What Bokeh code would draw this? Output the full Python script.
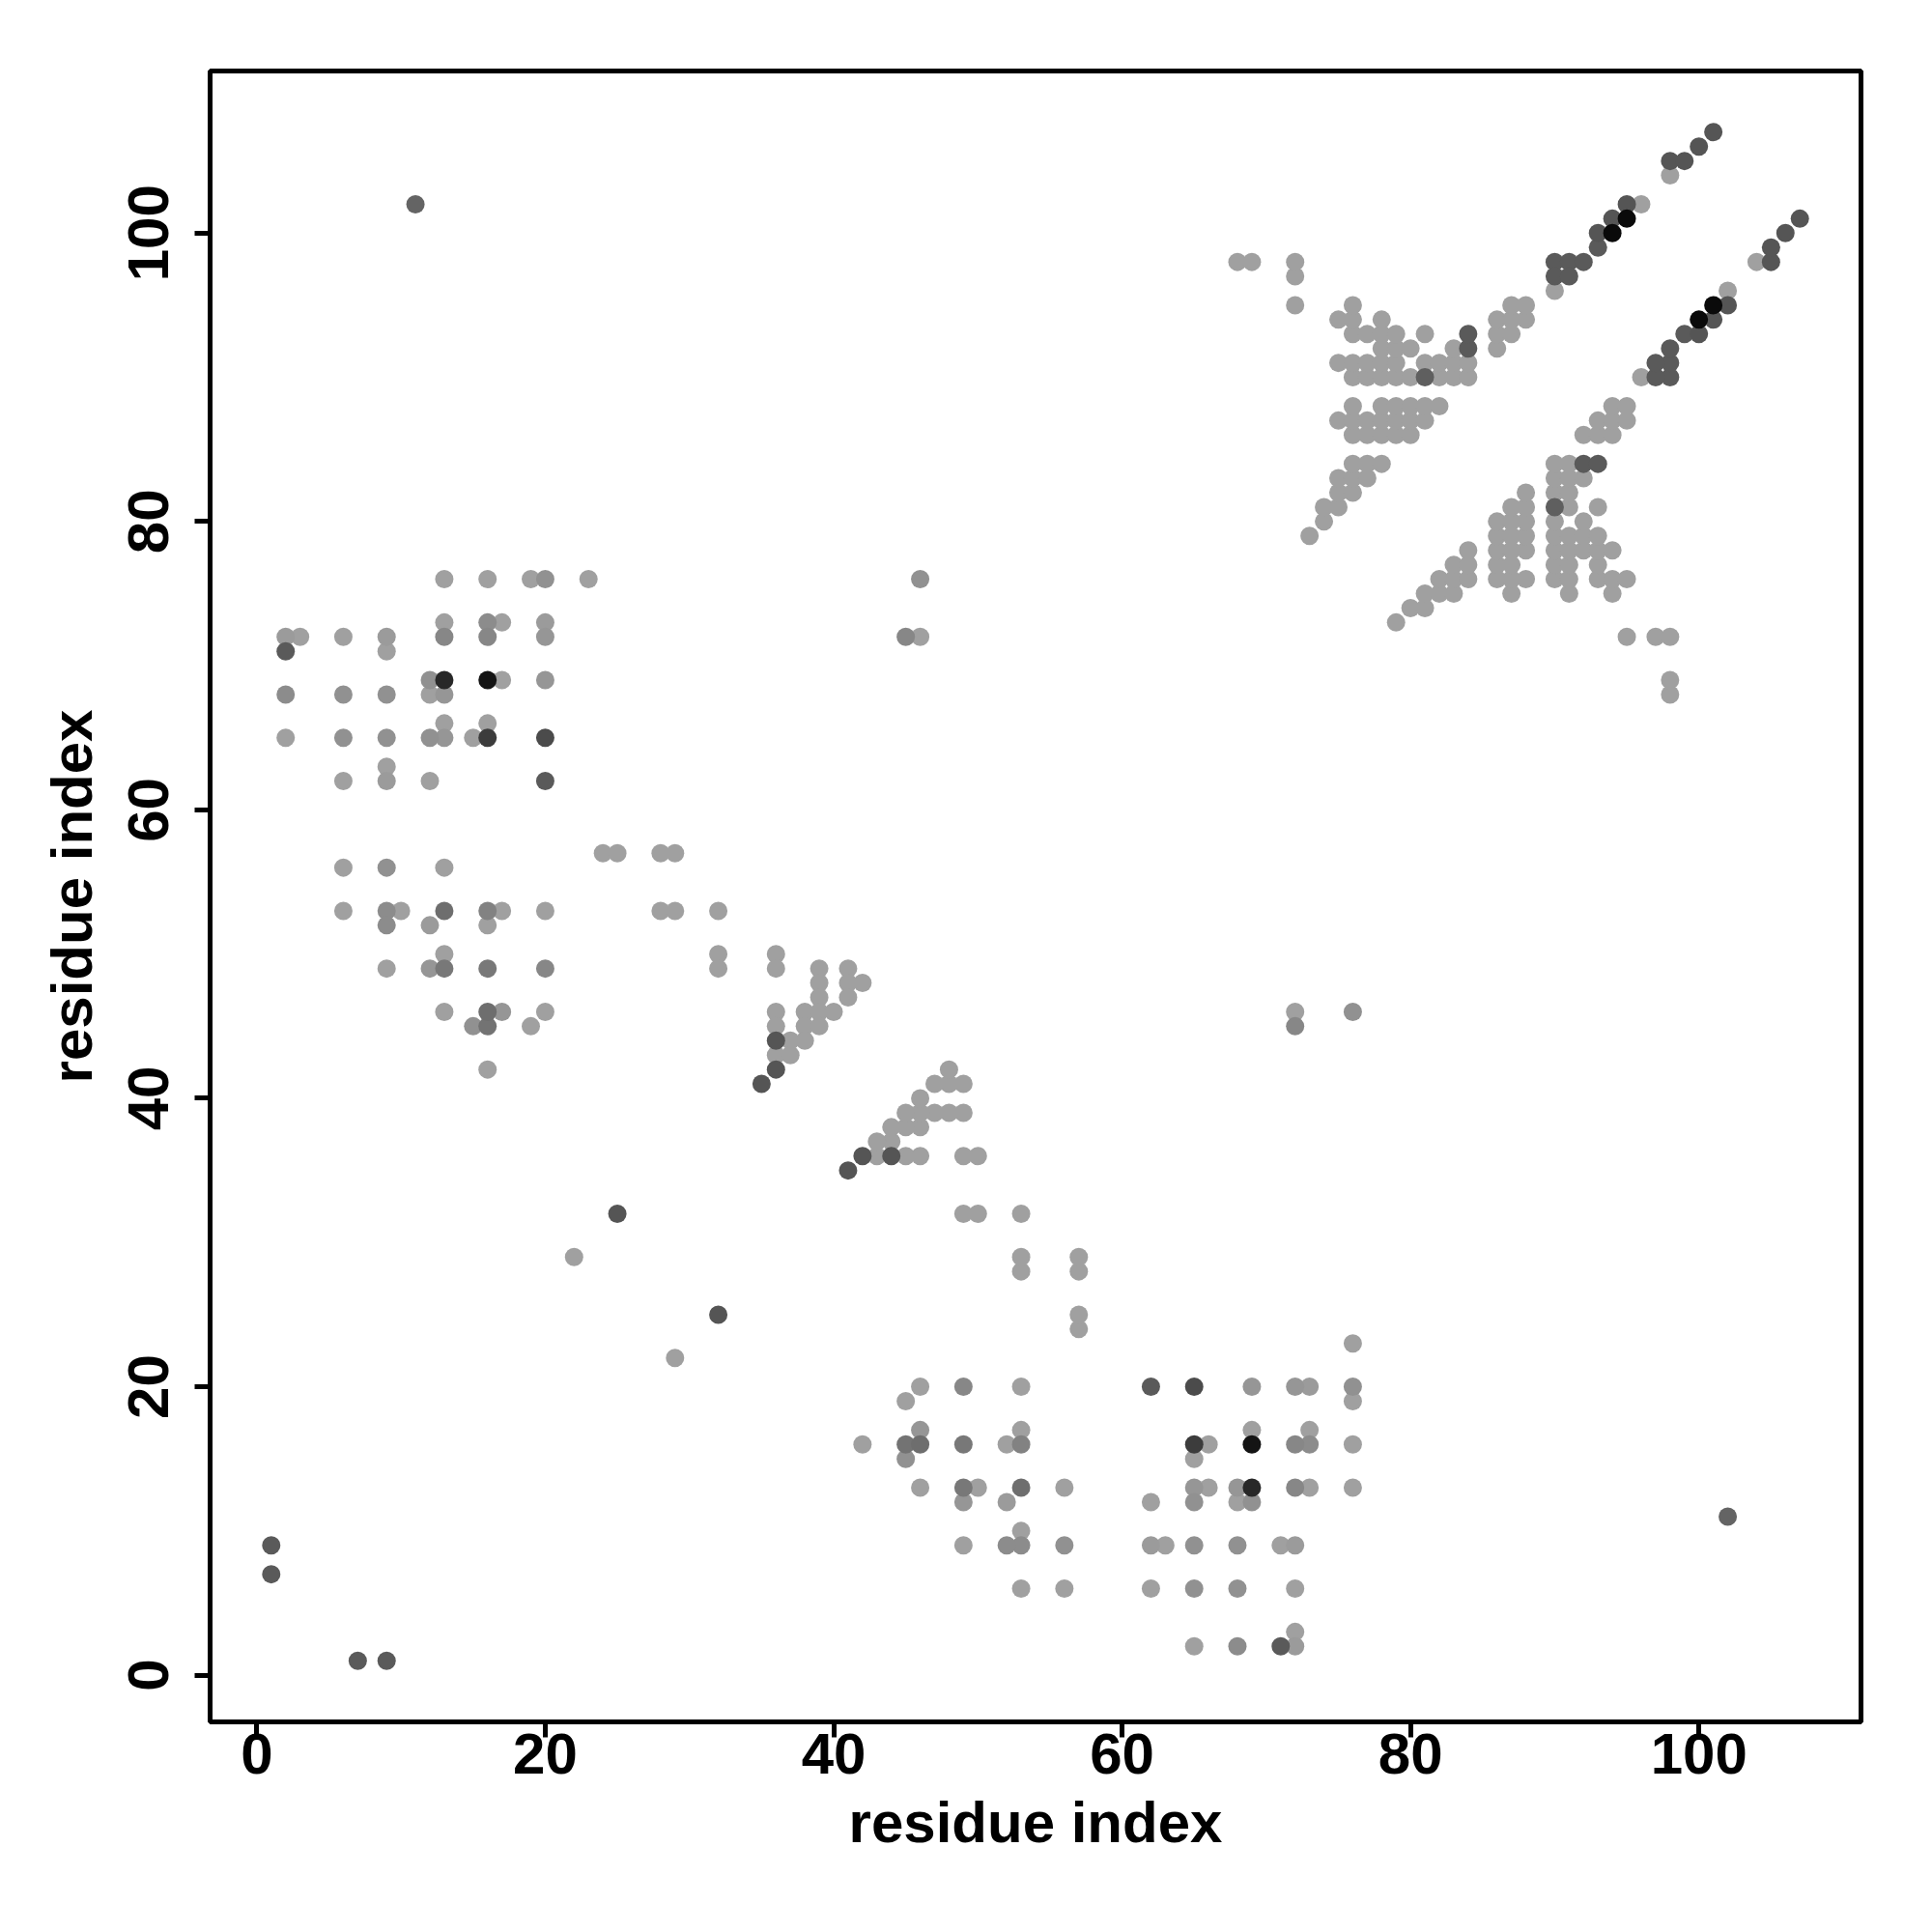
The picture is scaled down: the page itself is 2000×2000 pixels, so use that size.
import numpy as np
from bokeh.plotting import figure
from bokeh.models import Range1d, FixedTicker, ColumnDataSource
from bokeh.embed import file_html
from bokeh.resources import INLINE

# Contact map is symmetric: contacts read in the upper triangle (i < j),
# each drawn at (i, j) and (j, i). Gray level = darkness of the dot (0-255).

# block of contacts between residues 1-23 and 42-76
lb_i = [13, 16, 19, 20, 23,
        13, 16, 17, 20,
        2, 3, 6, 9, 13, 16, 20,
        2, 9,
        12, 13, 16, 17, 20,
        2, 6, 9, 12, 13,
        13, 16,
        2, 6, 9, 12, 13, 15, 16, 20,
        9,
        6, 9, 12, 20,
        6, 9, 13,
        6, 9, 10, 13, 16, 17, 20,
        9, 12, 16,
        13,
        9, 12, 13, 16, 20,
        13, 16, 17, 20,
        15, 16, 19,
        16]
lb_j = [76, 76, 76, 76, 76,
        73, 73, 73, 73,
        72, 72, 72, 72, 72, 72, 72,
        71, 71,
        69, 69, 69, 69, 69,
        68, 68, 68, 68, 68,
        66, 66,
        65, 65, 65, 65, 65, 65, 65, 65,
        63,
        62, 62, 62, 62,
        56, 56, 56,
        53, 53, 53, 53, 53, 53, 53,
        52, 52, 52,
        50,
        49, 49, 49, 49, 49,
        46, 46, 46, 46,
        45, 45, 45,
        42]
lb_gray = [160, 160, 160, 145, 160,
           160, 140, 160, 155,
           155, 160, 160, 155, 135, 135, 150,
           90, 160,
           145, 40, 20, 160, 150,
           140, 145, 145, 160, 150,
           160, 160,
           160, 145, 145, 145, 150, 160, 60, 75,
           160,
           160, 155, 160, 90,
           160, 145, 160,
           160, 140, 160, 110, 130, 160, 160,
           140, 155, 160,
           160,
           160, 150, 120, 120, 135,
           160, 110, 150, 160,
           145, 115, 160,
           160]

# band of contacts along the diagonal, residues 22-57
bd_i = [24, 25, 28, 29,
        28, 29, 32,
        32, 36,
        32, 36, 39, 41,
        39, 41, 42,
        39, 41,
        36, 38, 39, 40,
        36, 38, 39,
        36, 37, 38,
        36, 37,
        36, 35, 25, 22,
        46, 45, 46]
bd_j = [57, 57, 57, 57,
        53, 53, 53,
        50, 50,
        49, 49, 49, 49,
        48, 48, 48,
        47, 47,
        46, 46, 46, 46,
        45, 45, 45,
        44, 44, 44,
        43, 43,
        42, 41, 32, 29,
        76, 72, 72]
bd_gray = [160, 160, 160, 160,
           160, 160, 160,
           160, 160,
           160, 160, 160, 160,
           160, 160, 160,
           160, 160,
           160, 160, 160, 160,
           160, 160, 160,
           85, 160, 160,
           160, 160,
           85, 85, 85, 160,
           145, 135, 160]

# cluster of contacts between residues 68-88 and 79-98
xc_i = [73, 74, 74, 75, 75, 76, 75, 76, 77, 76, 77, 78,
        76, 77, 78, 79, 80,
        75, 76, 77, 78, 79, 80, 81,
        76, 78, 79, 80, 81, 82,
        76, 77, 78, 79, 80, 81, 82, 83, 84,
        75, 76, 77, 78, 79, 81, 82, 83, 84,
        78, 79, 80, 83, 84, 86,
        76, 77, 78, 79, 81, 84, 86, 87,
        75, 76, 78, 86, 87, 88,
        76, 87, 88,
        72, 72, 72, 68, 69]
xc_j = [79, 80, 81, 81, 82, 82, 83, 83, 83, 84, 84, 84,
        86, 86, 86, 86, 86,
        87, 87, 87, 87, 87, 87, 87,
        88, 88, 88, 88, 88, 88,
        90, 90, 90, 90, 90, 90, 90, 90, 90,
        91, 91, 91, 91, 91, 91, 91, 91, 91,
        92, 92, 92, 92, 92, 92,
        93, 93, 93, 93, 93, 93, 93, 93,
        94, 94, 94, 94, 94, 94,
        95, 95, 95,
        95, 97, 98, 98, 98]
xc_gray = [160] * 12 + [160] * 5 + [160] * 7 + [160] * 6 \
    + [160, 160, 160, 160, 160, 95, 160, 160, 160] \
    + [160] * 9 \
    + [160, 160, 160, 160, 90, 160] \
    + [160, 160, 160, 160, 160, 90, 160, 160] \
    + [160] * 6 + [160] * 3 + [160] * 5

# pairs next to the diagonal, residues 90-107
dg_i = [90, 91, 92, 90, 91, 90, 93, 93, 94, 94, 95, 95, 96, 98, 98, 99, 100, 101]
dg_j = [98, 98, 98, 97, 97, 96, 99, 100, 100, 101, 101, 102, 102, 104, 105, 105, 106, 107]
dg_gray = [90, 90, 90, 90, 90, 160, 90, 85, 10, 85, 10, 85, 160, 160, 85, 85, 85, 85]

# isolated contacts
is_i = [1, 1, 11]
is_j = [9, 7, 102]
is_gray = [90, 90, 100]

x_ticks = [0, 20, 40, 60, 80, 100]
axis_title = "residue index"

ui = lb_i + bd_i + xc_i + dg_i + is_i
uj = lb_j + bd_j + xc_j + dg_j + is_j
ug = lb_gray + bd_gray + xc_gray + dg_gray + is_gray
assert len(ui) == len(uj) == len(ug), (len(ui), len(uj), len(ug))

xs = np.array(ui + uj, dtype=float)
ys = np.array(uj + ui, dtype=float)
gs = np.array(ug + ug)
order = np.argsort(-gs, kind="stable")
xs, ys, gs = xs[order], ys[order], gs[order]
cols = ["#%02x%02x%02x" % (g, g, g) for g in gs]
src = ColumnDataSource(dict(x=xs, y=ys, c=cols))

FONT = "Liberation Sans"
p = figure(output_backend="svg", toolbar_location=None,
           frame_width=1709, frame_height=1709,
           min_border_left=217, min_border_right=58,
           min_border_top=73, min_border_bottom=195,
           x_range=Range1d(-3.24, 111.24), y_range=Range1d(-3.24, 111.24),
           background_fill_color="white", border_fill_color="white")
p.scatter("x", "y", source=src, size=19, fill_color="c", line_color=None)

p.grid.visible = False
p.outline_line_color = "black"
p.outline_line_width = 5
for ax in (p.xaxis[0], p.yaxis[0]):
    ax.ticker = FixedTicker(ticks=x_ticks)
    ax.minor_tick_line_color = None
    ax.axis_line_color = None
    ax.major_tick_line_width = 5
    ax.major_tick_line_color = "black"
    ax.major_tick_in = 0
    ax.major_tick_out = 16
    ax.major_label_text_font = FONT
    ax.major_label_text_font_style = "bold"
    ax.major_label_text_font_size = "60px"
    ax.major_label_text_color = "black"
    ax.axis_label = axis_title
    ax.axis_label_text_font = FONT
    ax.axis_label_text_font_style = "bold"
    ax.axis_label_text_font_size = "60px"
    ax.axis_label_text_color = "black"
p.xaxis.major_label_standoff = -4
p.xaxis.axis_label_standoff = 14
p.yaxis.major_label_orientation = "vertical"
p.yaxis.major_label_standoff = 27
p.yaxis.axis_label_standoff = 23

open("out.html", "w").write(file_html(p, INLINE))
